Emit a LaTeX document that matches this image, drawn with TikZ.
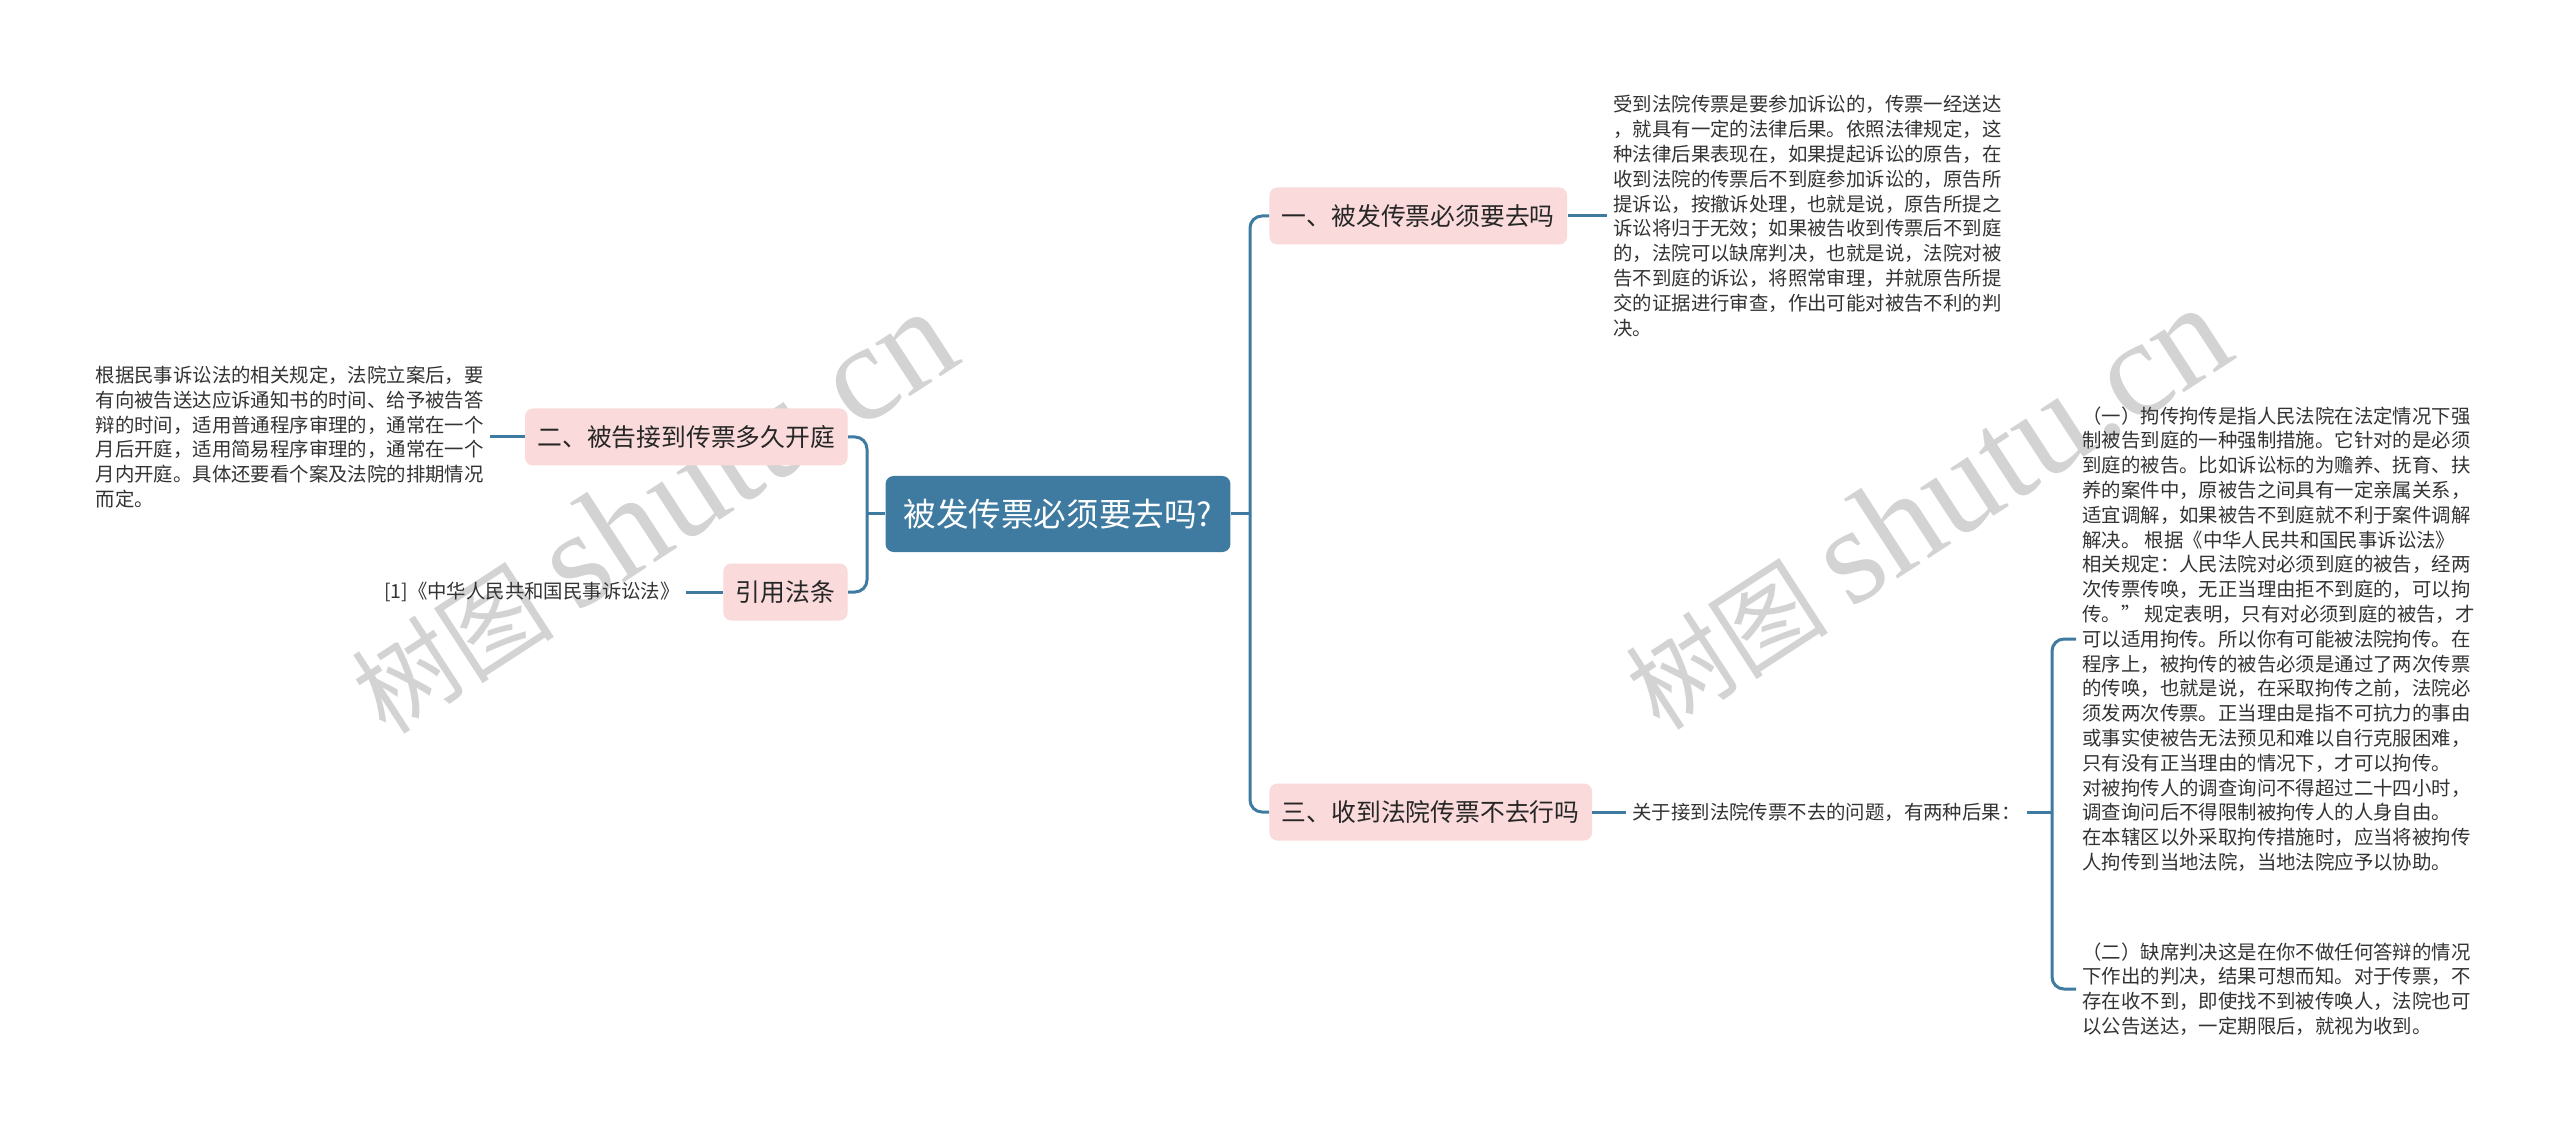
\documentclass[tikz,border=0pt]{standalone}
\usepackage{fontspec}
\setmainfont{Noto Sans CJK SC}
\newfontfamily\wmfont{Liberation Serif}
\usepackage{tikz}
\usetikzlibrary{positioning}
\definecolor{rootblue}{HTML}{3F7BA0}
\definecolor{topicpink}{HTML}{FADADA}
\definecolor{notegray}{HTML}{333333}
\definecolor{wmgray}{HTML}{D3D3D3}

\begin{document}
\begin{tikzpicture}[x=0.5pt, y=-0.5pt,
	root/.style={fill=rootblue, text=white, rounded corners=4pt, font=\fontsize{16.3}{18}\selectfont, inner xsep=9pt, minimum height=38pt},
	topic/.style={fill=topicpink, text=black!85, rounded corners=4pt, font=\fontsize{12.4}{14}\selectfont, inner xsep=6.25pt, minimum height=28.5pt},
	note/.style={text=notegray, align=left, inner sep=3pt, font=\fontsize{9.7}{12.4}\selectfont},
	wmark/.style={text=wmgray, rotate=33, inner sep=0pt},
	link/.style={draw=rootblue, line width=1.5pt, rounded corners=6pt}]
	
	\useasboundingbox[fill=white] (0,0) rectangle (2560,1128);
	
	% watermark
	\node[wmark] (wm1) at (652,512) {\fontsize{51}{55}\selectfont 树图 {\wmfont\fontsize{69}{72}\selectfont shutu.cn}};
	\node[wmark] (wm2) at (1926,508) {\fontsize{51}{55}\selectfont 树图 {\wmfont\fontsize{69}{72}\selectfont shutu.cn}};
	
	% root
	\node[root] (R) at (1058,514) {被发传票必须要去吗?};
	\coordinate (RJ) at (1250,514);
	\coordinate (LJ) at (867,514);
	
	% right side
	\node[topic, anchor=west] (T1) at (1269,216) {一、被发传票必须要去吗};
	\node[topic, anchor=west] (T3) at (1269,812) {三、收到法院传票不去行吗};
	\node[note, anchor=west] (N1) at (1607,216) {受到法院传票是要参加诉讼的，传票一经送达\\，就具有一定的法律后果。依照法律规定，这\\种法律后果表现在，如果提起诉讼的原告，在\\收到法院的传票后不到庭参加诉讼的，原告所\\提诉讼，按撤诉处理，也就是说，原告所提之\\诉讼将归于无效；如果被告收到传票后不到庭\\的，法院可以缺席判决，也就是说，法院对被\\告不到庭的诉讼，将照常审理，并就原告所提\\交的证据进行审查，作出可能对被告不利的判\\决。};
	\node[note, anchor=west] (N3) at (1626,812) {关于接到法院传票不去的问题，有两种后果：};
	\coordinate (BJ) at (2052,812);
	\node[note, anchor=west] (N31) at (2076,639) {（一）拘传拘传是指人民法院在法定情况下强\\制被告到庭的一种强制措施。它针对的是必须\\到庭的被告。比如诉讼标的为赡养、抚育、扶\\养的案件中，原被告之间具有一定亲属关系，\\适宜调解，如果被告不到庭就不利于案件调解\\解决。 根据《中华人民共和国民事诉讼法》\\相关规定：人民法院对必须到庭的被告，经两\\次传票传唤，无正当理由拒不到庭的，可以拘\\传。” 规定表明，只有对必须到庭的被告，才\\可以适用拘传。所以你有可能被法院拘传。在\\程序上，被拘传的被告必须是通过了两次传票\\的传唤，也就是说，在采取拘传之前，法院必\\须发两次传票。正当理由是指不可抗力的事由\\或事实使被告无法预见和难以自行克服困难，\\只有没有正当理由的情况下，才可以拘传。\\对被拘传人的调查询问不得超过二十四小时，\\调查询问后不得限制被拘传人的人身自由。\\在本辖区以外采取拘传措施时，应当将被拘传\\人拘传到当地法院，当地法院应予以协助。};
	\node[note, anchor=west] (N32) at (2076,989) {（二）缺席判决这是在你不做任何答辩的情况\\下作出的判决，结果可想而知。对于传票，不\\存在收不到，即使找不到被传唤人，法院也可\\以公告送达，一定期限后，就视为收到。};
	
	% left side
	\node[topic, anchor=east] (T2) at (848,437) {二、被告接到传票多久开庭};
	\node[topic, anchor=east] (T4) at (848,592) {引用法条};
	\node[note, anchor=east] (N2) at (490,437) {根据民事诉讼法的相关规定，法院立案后，要\\有向被告送达应诉通知书的时间、给予被告答\\辩的时间，适用普通程序审理的，通常在一个\\月后开庭，适用简易程序审理的，通常在一个\\月内开庭。具体还要看个案及法院的排期情况\\而定。};
	\node[note, anchor=east] (N4) at (686,592) {[1]《中华人民共和国民事诉讼法》};
	
	% links
	\draw[link] (R.east) -- (RJ);
	\draw[link] (T1.west) -| (RJ) |- (T3.west);
	\draw[link] (R.west) -- (LJ);
	\draw[link] (T2.east) -| (LJ) |- (T4.east);
	\draw[link] (T1.east) -- (N1.west);
	\draw[link] (T3.east) -- (N3.west);
	\draw[link] (N3.east) -- (BJ);
	\draw[link] (N31.west) -| (BJ) |- (N32.west);
	\draw[link] (T2.west) -- (N2.east);
	\draw[link] (T4.west) -- (N4.east);
	
\end{tikzpicture}
\end{document}
